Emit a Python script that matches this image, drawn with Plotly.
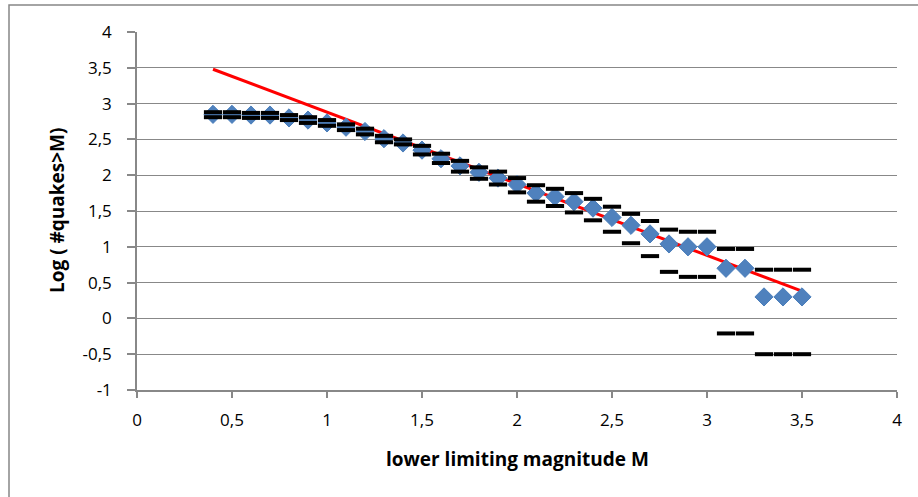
import plotly.graph_objects as go

# Lower limiting magnitude M
mag = [0.4, 0.5, 0.6, 0.7, 0.8, 0.9, 1.0, 1.1, 1.2, 1.3, 1.4, 1.5, 1.6, 1.7, 1.8, 1.9,
       2.0, 2.1, 2.2, 2.3, 2.4, 2.5, 2.6, 2.7, 2.8, 2.9, 3.0, 3.1, 3.2, 3.3, 3.4, 3.5]
# Log(#quakes > M)
log_n = [2.85, 2.85, 2.84, 2.84, 2.80, 2.77, 2.73, 2.67, 2.61, 2.51, 2.45, 2.35, 2.23, 2.13, 2.04, 1.96,
         1.87, 1.75, 1.70, 1.63, 1.54, 1.41, 1.30, 1.18, 1.04, 1.00, 1.00, 0.70, 0.70, 0.30, 0.30, 0.30]
# Upper and lower error markers
upper = [2.88, 2.88, 2.87, 2.87, 2.84, 2.81, 2.77, 2.71, 2.65, 2.55, 2.50, 2.41, 2.30, 2.20, 2.11, 2.05,
         1.96, 1.86, 1.81, 1.75, 1.67, 1.56, 1.46, 1.36, 1.24, 1.21, 1.21, 0.97, 0.97, 0.68, 0.68, 0.68]
lower = [2.81, 2.81, 2.80, 2.80, 2.77, 2.73, 2.69, 2.63, 2.57, 2.46, 2.43, 2.29, 2.17, 2.05, 1.95, 1.87,
         1.76, 1.63, 1.57, 1.48, 1.37, 1.21, 1.05, 0.87, 0.65, 0.58, 0.58, -0.21, -0.21, -0.50, -0.50, -0.50]
# Fitted line endpoints
fit_x = [0.4, 3.5]
fit_y = [3.48, 0.38]

x_ticks = [0, 0.5, 1, 1.5, 2, 2.5, 3, 3.5, 4]
x_labels = ["0", "0,5", "1", "1,5", "2", "2,5", "3", "3,5", "4"]
y_ticks = [-1, -0.5, 0, 0.5, 1, 1.5, 2, 2.5, 3, 3.5, 4]
y_labels = ["-1", "-0,5", "0", "0,5", "1", "1,5", "2", "2,5", "3", "3,5", "4"]

x_title = "lower limiting magnitude M"
y_title = "Log ( #quakes>M)"

fig = go.Figure()
fig.add_trace(go.Scatter(x=fit_x, y=fit_y, mode="lines",
                         line=dict(color="#FF0000", width=3), showlegend=False))
fig.add_trace(go.Scatter(x=mag, y=log_n, mode="markers",
                         marker=dict(symbol="diamond", size=14, color="#4F81BD",
                                     line=dict(color="#4A7EBB", width=1)),
                         showlegend=False))
for arr in (upper, lower):
    fig.add_trace(go.Scatter(x=mag, y=arr, mode="markers",
                             marker=dict(symbol="line-ew", size=13,
                                         line=dict(color="#000000", width=4)),
                             showlegend=False))

grid = "#888888"
W, H = 918, 497
L, R, T, B = 137, 21, 32, 107
pw, ph = W - L - R, H - T - B

fig.update_layout(
    width=W, height=H,
    margin=dict(l=L, r=R, t=T, b=B),
    paper_bgcolor="white", plot_bgcolor="white",
    font=dict(family="'Open Sans', sans-serif", size=17, color="#000000"),
    xaxis=dict(range=[0, 4], tickvals=x_ticks, ticktext=x_labels, showgrid=False, zeroline=False,
               showline=True, linecolor=grid, linewidth=1.5,
               ticks="outside", ticklen=6, tickcolor=grid, tickwidth=1.5,
               ticklabelstandoff=8, tickfont=dict(size=17)),
    yaxis=dict(range=[-1, 4], tickvals=y_ticks, ticktext=y_labels, showgrid=True, gridcolor=grid,
               gridwidth=1.2, zeroline=False, showline=True, linecolor=grid, linewidth=1.5,
               ticks="outside", ticklen=8, tickcolor=grid, tickwidth=1.5,
               ticklabelstandoff=12, tickfont=dict(size=17)),
    annotations=[
        dict(text="<b>%s</b>" % x_title, xref="paper", yref="paper",
             x=(517 - L) / pw, y=-(459 - (T + ph)) / ph,
             xanchor="center", yanchor="middle", showarrow=False, font=dict(size=19)),
        dict(text="<b>%s</b>" % y_title, xref="paper", yref="paper",
             x=(57 - L) / pw, y=1 - (211 - T) / ph, textangle=-90,
             xanchor="center", yanchor="middle", showarrow=False, font=dict(size=19)),
    ],
    shapes=[dict(type="rect", xref="paper", yref="paper",
                 x0=(9 - L) / pw, x1=1.1, y0=-0.5, y1=1 + (T - 5) / ph,
                 line=dict(color="#878787", width=1.5), fillcolor="rgba(0,0,0,0)", layer="below")],
)

fig.write_html("out.html", config={"displayModeBar": False},
               post_script="document.body.style.margin='0';")
